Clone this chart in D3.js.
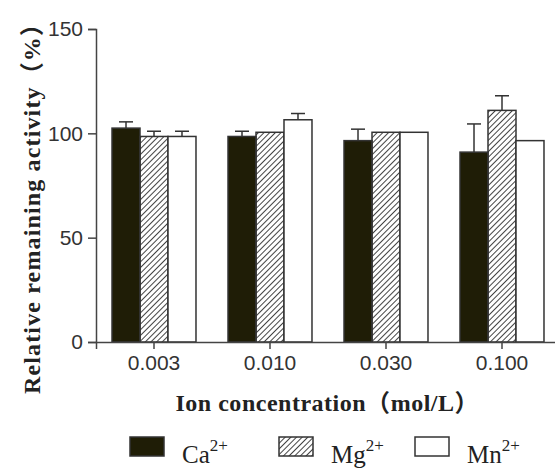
<!DOCTYPE html>
<html>
<head>
<meta charset="utf-8">
<script src="https://cdn.jsdelivr.net/npm/d3@7"></script>
<style>
  body { margin: 0; background: #fff; }
  svg { display: block; }
</style>
</head>
<body>
<svg width="555" height="469"></svg>
<script>
// data
const concentrations = ['0.003', '0.010', '0.030', '0.100']
const ions = ['Ca', 'Mg', 'Mn']
const caValues = [102.5, 98.5, 96.5, 91]
const caErrors = [3, 2.5, 5.5, 13.5]
const mgValues = [98.5, 100.5, 100.5, 111]
const mgErrors = [2.5, 0, 0, 7]
const mnValues = [98.5, 106.5, 100.5, 96.5]
const mnErrors = [2.5, 3, 0, 0]
const yTicks = [0, 50, 100, 150]

const svg = d3.select('svg')

const serif = '"Times New Roman", "Liberation Serif", "Noto Sans CJK SC", serif'
const sans = 'Arial, "Liberation Sans", sans-serif'

const seriesValues = { Ca: caValues, Mg: mgValues, Mn: mnValues }
const seriesErrors = { Ca: caErrors, Mg: mgErrors, Mn: mnErrors }

const rows = []
concentrations.forEach((c, i) => {
  ions.forEach(ion => {
    rows.push({ conc: c, ion: ion, value: seriesValues[ion][i], err: seriesErrors[ion][i] })
  })
})

// hatch pattern for Mg
const defs = svg.append('defs')
defs.append('pattern')
  .attr('id', 'hatch')
  .attr('patternUnits', 'userSpaceOnUse')
  .attr('width', 4)
  .attr('height', 4)
  .attr('patternTransform', 'rotate(45)')
  .append('line')
    .attr('x1', 0).attr('y1', 0)
    .attr('x2', 0).attr('y2', 4)
    .attr('stroke', '#222')
    .attr('stroke-width', 1.7)

const fills = { Ca: '#1f1d06', Mg: 'url(#hatch)', Mn: '#ffffff' }

const x0 = d3.scaleBand()
  .domain(concentrations)
  .range([96, 560])
  .paddingInner(0.276)
  .paddingOuter(0.138)

const x1 = d3.scaleBand()
  .domain(ions)
  .range([0, x0.bandwidth()])

const y = d3.scaleLinear()
  .domain([0, 150])
  .range([342, 29])

// bars
svg.append('g')
  .selectAll('rect')
  .data(rows)
  .join('rect')
    .attr('x', d => x0(d.conc) + x1(d.ion))
    .attr('y', d => y(d.value))
    .attr('width', x1.bandwidth())
    .attr('height', d => y(0) - y(d.value))
    .attr('fill', d => fills[d.ion])
    .attr('stroke', '#333')
    .attr('stroke-width', 1.5)

// error bars (upper only)
const errs = svg.append('g')
  .attr('stroke', '#333')
  .attr('stroke-width', 1.5)
  .selectAll('g')
  .data(rows.filter(d => d.err > 0))
  .join('g')
    .attr('transform', d => `translate(${x0(d.conc) + x1(d.ion) + x1.bandwidth() / 2},0)`)
errs.append('line')
  .attr('y1', d => y(d.value))
  .attr('y2', d => y(d.value + d.err))
errs.append('line')
  .attr('x1', -7).attr('x2', 7)
  .attr('y1', d => y(d.value + d.err))
  .attr('y2', d => y(d.value + d.err))

// axes
const xAxis = svg.append('g')
  .attr('transform', `translate(0,${y(0)})`)
  .call(d3.axisBottom(x0).tickSizeOuter(0).tickSize(7).tickPadding(6))
xAxis.select('.domain').attr('stroke', '#444').attr('stroke-width', 1.5)
xAxis.selectAll('.tick line').attr('stroke', '#444').attr('stroke-width', 1.5)
xAxis.selectAll('.tick text')
  .attr('font-family', sans)
  .attr('font-size', 21)
  .attr('fill', '#333')

const yAxis = svg.append('g')
  .attr('transform', 'translate(96,0)')
  .call(d3.axisLeft(y).tickValues(yTicks).tickSizeOuter(0).tickSize(8).tickPadding(5))
yAxis.select('.domain').attr('stroke', '#444').attr('stroke-width', 1.5)
yAxis.selectAll('.tick line').attr('stroke', '#444').attr('stroke-width', 1.5)
yAxis.selectAll('.tick text')
  .attr('font-family', sans)
  .attr('font-size', 21)
  .attr('fill', '#333')

// axis titles
svg.append('text')
  .attr('transform', 'translate(40,203) rotate(-90)')
  .attr('text-anchor', 'middle')
  .attr('font-family', serif)
  .attr('font-weight', 'bold')
  .attr('font-size', 24)
  .attr('textLength', 382)
  .attr('lengthAdjust', 'spacing')
  .attr('fill', '#222')
  .text('Relative remaining activity（%）')

svg.append('text')
  .attr('x', 327)
  .attr('y', 411)
  .attr('text-anchor', 'middle')
  .attr('font-family', serif)
  .attr('font-weight', 'bold')
  .attr('font-size', 24)
  .attr('textLength', 303)
  .attr('lengthAdjust', 'spacing')
  .attr('fill', '#222')
  .text('Ion concentration（mol/L）')

// legend
const legendX = [130, 279, 415]
const legend = svg.append('g')
  .selectAll('g')
  .data(ions)
  .join('g')
    .attr('transform', (d, i) => `translate(${legendX[i]},437)`)
legend.append('rect')
  .attr('width', 34)
  .attr('height', 19)
  .attr('fill', d => fills[d])
  .attr('stroke', '#333')
  .attr('stroke-width', 1.5)
const lt = legend.append('text')
  .attr('x', 52)
  .attr('y', 26)
  .attr('font-family', serif)
  .attr('font-size', 25)
  .attr('fill', '#222')
lt.append('tspan').text(d => d)
lt.append('tspan')
  .attr('dy', -12)
  .attr('font-size', 17)
  .text('2+')
</script>
</body>
</html>
